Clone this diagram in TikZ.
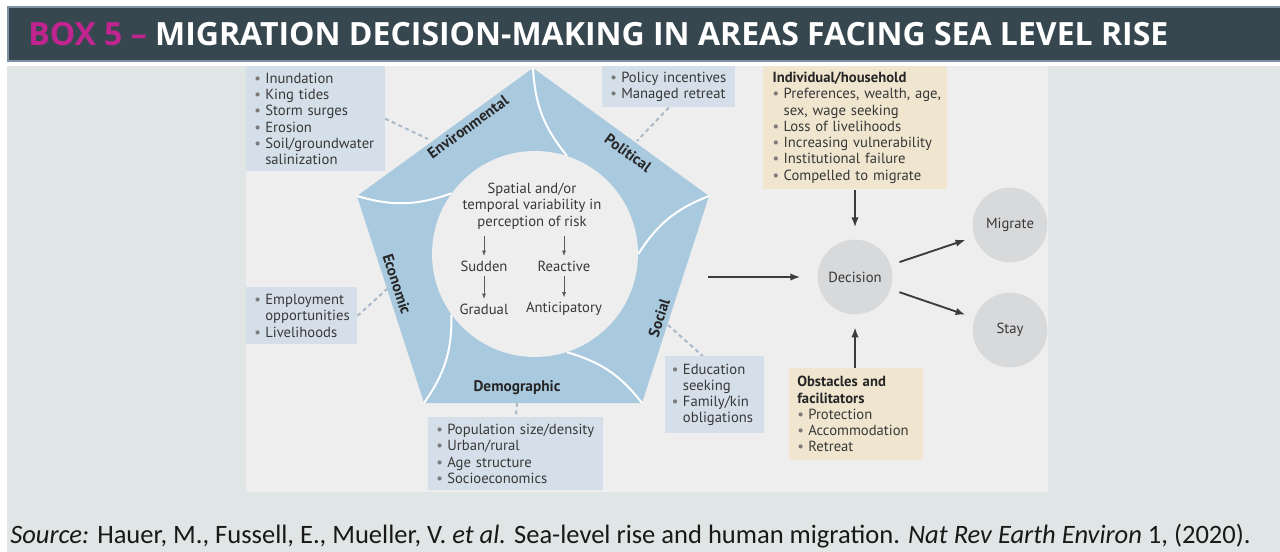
\documentclass[tikz,border=0pt]{standalone}
\usepackage{fontspec}
\setmainfont{PT Sans}
\newfontfamily\titlefont{Open Sans}
\newfontfamily\capfont{Carlito}
\usetikzlibrary{arrows.meta}
\usetikzlibrary{positioning}
\definecolor{framegray}{HTML}{E0E6E5}
\definecolor{panelgray}{HTML}{EEEEEE}
\definecolor{barslate}{HTML}{37474F}
\definecolor{barrim}{HTML}{7D92A6}
\definecolor{boxmagenta}{HTML}{C0248F}
\definecolor{pentablue}{HTML}{A9C9DF}
\definecolor{boxblue}{HTML}{D5DFE9}
\definecolor{boxbeige}{HTML}{F0E6D0}
\definecolor{circgray}{HTML}{D8D9DB}
\definecolor{arrowgray}{HTML}{3C3C3C}
\definecolor{dashblue}{HTML}{AAB9C7}
\definecolor{txtgray}{HTML}{383838}
\definecolor{bulgray}{HTML}{7A7A7A}
\tikzstyle{factor} = [rectangle, fill=boxblue, anchor=north west, align=left, inner xsep=6pt, inner ysep=3pt, text=txtgray, font=\fontsize{11}{12.2}\selectfont]
\tikzstyle{driver} = [factor, fill=boxbeige]
\tikzstyle{outcome} = [circle, fill=circgray, minimum size=56pt, inner sep=0pt, text=txtgray, font=\fontsize{11}{12}\selectfont]
\tikzstyle{band} = [text=black!85, font=\bfseries\fontsize{11.5}{12}\selectfont]
\tikzstyle{perc} = [text=txtgray, font=\fontsize{11}{12.2}\selectfont, align=center]
\tikzstyle{seam} = [draw=white, line width=1.5pt]
\tikzstyle{link} = [draw=dashblue, line width=1.5pt, dash pattern=on 3pt off 2.5pt]
\tikzstyle{flow} = [draw=arrowgray, line width=1.4pt, -{Latex[length=7.5pt, width=5.5pt]}]
\tikzstyle{riskstep} = [draw=black!65, line width=0.6pt, -{Latex[length=4pt, width=3pt]}]
\newcommand{\bpt}{\textcolor{bulgray}{\textbullet}\hspace{0.3em}}
\newcommand{\itm}[1]{\mbox{\bpt #1}}
\newcommand{\cnt}[1]{\mbox{\hphantom{\bpt}#1}}

\begin{document}
\begin{tikzpicture}[x=0.75pt,y=-0.75pt]

		\useasboundingbox (0,0) rectangle (1280,552);
		\fill[framegray] (7,66) rectangle (1280,552);
		\fill[barslate, draw=barrim, line width=1.5pt] (8,7) rectangle (1285,61);
		\fill[panelgray] (246,66) rectangle (1048,492);
		
		\node[anchor=west, inner sep=0pt, text=white, font=\titlefont\bfseries\fontsize{24}{28}\selectfont] (title) at (28,34) {\textcolor{boxmagenta}{BOX 5 –} MIGRATION DECISION-MAKING IN AREAS FACING SEA LEVEL RISE};
		
		% pentagon of drivers
		\coordinate (pt) at (533,68);
		\coordinate (pr) at (709,196);
		\coordinate (pbr) at (642,403);
		\coordinate (pbl) at (424,403);
		\coordinate (pl) at (357,196);
		\fill[pentablue] (pt) -- (pr) -- (pbr) -- (pbl) -- (pl) -- cycle;
		\node[circle, fill=panelgray, minimum size=154.5pt, inner sep=0pt] (core) at (535,254) {};
		
		\draw[seam] (pt) to[bend right=18] (core.72);
		\draw[seam] (pr) to[bend right=18] (core.0);
		\draw[seam] (pbr) to[bend right=18] (core.-72);
		\draw[seam] (pbl) to[bend right=18] (core.-144);
		\draw[seam] (pl) to[bend right=18] (core.144);
		
		\node[band, rotate=36] (envlab) at (468,127) {Environmental};
		\node[band, rotate=-36] (pollab) at (628,153) {Political};
		\node[band, rotate=-72] (ecolab) at (397,284) {Economic};
		\node[band, rotate=72] (soclab) at (659,318) {Social};
		\node[band] (demlab) at (517,388) {Demographic};
		
		% perception of risk
		\node[perc] (spatial) at (532,206) {Spatial and/or\\temporal variability in\\perception of risk};
		\node[perc] (sudden) at (484,266) {Sudden};
		\node[perc] (reactive) at (564,266) {Reactive};
		\node[perc, below of=sudden, node distance=32.25pt] (gradual) {Gradual};
		\node[perc, below of=reactive, node distance=32.25pt] (anticip) {Anticipatory};
		\draw[riskstep] ([yshift=-2pt]spatial.south -| sudden) -- (sudden.north);
		\draw[riskstep] ([yshift=-2pt]spatial.south -| reactive) -- (reactive.north);
		\draw[riskstep] (sudden.south) -- (gradual.north);
		\draw[riskstep] (reactive.south) -- (anticip.north);
		
		% factor lists
		\node[factor, text width=92pt, minimum height=78.75pt] (envbox) at (246,66) {\itm{Inundation}\\\itm{King tides}\\\itm{Storm surges}\\\itm{Erosion}\\\itm{Soil/groundwater}\\\cnt{salinization}};
		\node[factor, text width=87.75pt, minimum height=30.75pt] (polbox) at (602,66) {\itm{Policy incentives}\\\itm{Managed retreat}};
		\node[factor, text width=71.25pt, minimum height=42.75pt] (ecobox) at (246,287) {\itm{Employment}\\\cnt{opportunities}\\\itm{Livelihoods}};
		\node[factor, text width=119.25pt, minimum height=54.75pt] (dembox) at (428,417) {\itm{Population size/density}\\\itm{Urban/rural}\\\itm{Age structure}\\\itm{Socioeconomics}};
		\node[factor, text width=64.25pt, minimum height=57.75pt, inner xsep=5pt] (socbox) at (665,356) {\itm{Education}\\\cnt{seeking}\\\itm{Family/kin}\\\cnt{obligations}};
		\node[driver, text width=124pt, minimum height=92.25pt, inner xsep=7pt] (indbox) at (763,66) {\textbf{\color{black!85}Individual/household}\\\itm{Preferences, wealth, age,}\\\cnt{sex, wage seeking}\\\itm{Loss of livelihoods}\\\itm{Increasing vulnerability}\\\itm{Institutional failure}\\\itm{Compelled to migrate}};
		\node[driver, text width=88.5pt, minimum height=69pt] (obsbox) at (789,368) {\textbf{\color{black!85}Obstacles and}\\\textbf{\color{black!85}facilitators}\\\itm{Protection}\\\itm{Accommodation}\\\itm{Retreat}};
		
		% decision
		\node[outcome] (decision) at (855,277) {Decision};
		\node[outcome, right of=decision, node distance=116.25pt, yshift=39pt] (migrate) {Migrate};
		\node[outcome, right of=decision, node distance=116.25pt, yshift=-39.75pt] (stay) {Stay};
		
		% connections
		\coordinate (envtip) at (428,139);
		\coordinate (poltip) at (637,141);
		\coordinate (ecotip) at (387,289);
		\coordinate (soctip) at (668,325);
		\coordinate (demtip) at (517,403);
		\coordinate (pentout) at (708,277);
		\draw[link] (envbox.east) -- (envtip);
		\draw[link] (polbox.south) -- (poltip);
		\draw[link] (ecobox.east) -- (ecotip);
		\draw[link] (soctip) -- ([xshift=-9pt]socbox.north);
		\draw[link] (demtip) -- (dembox.north);
		
		\draw[flow, shorten >=12.75pt] (pentout) -- (decision.west);
		\draw[flow, shorten >=9pt] (indbox.south -| decision) -- (decision.north);
		\draw[flow, shorten >=9.5pt] (obsbox.north -| decision) -- (decision.south);
		\draw[flow, shorten <=7pt, shorten >=7pt] (decision) -- (migrate);
		\draw[flow, shorten <=7pt, shorten >=7pt] (decision) -- (stay);
		
		\node[anchor=west, inner sep=0pt, text=black!90, font=\capfont\fontsize{19.9}{23}\selectfont] (source) at (10,536) {\textit{Source:} Hauer, M., Fussell, E., Mueller, V. \textit{et al.} Sea-level rise and human migration. \textit{Nat Rev Earth Environ} 1, (2020).};
				
	\end{tikzpicture}
\end{document}
